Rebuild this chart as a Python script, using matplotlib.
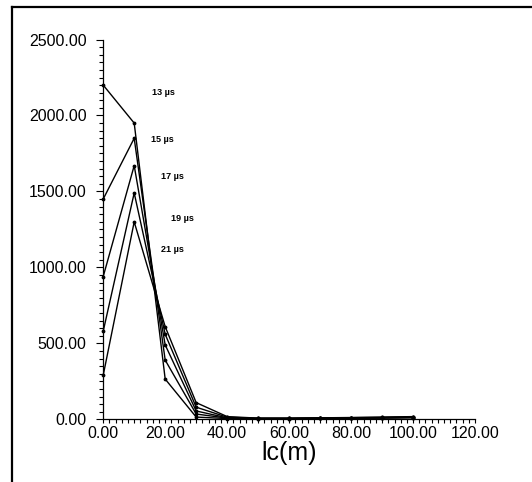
import matplotlib
matplotlib.use("Agg")
import matplotlib.pyplot as plt
from matplotlib.lines import Line2D
from matplotlib.ticker import MultipleLocator, FormatStrFormatter

plt.rcParams['font.family'] = ['Liberation Sans', 'DejaVu Sans']

lc = [0, 10, 20, 30, 40, 50, 60, 70, 80, 90, 100]
s13 = [2200, 1950, 265, 15, 5, 4, 4, 6, 7, 8, 10]
s15 = [1450, 1850, 390, 35, 8, 5, 5, 7, 8, 9, 12]
s17 = [940, 1670, 490, 55, 10, 6, 6, 8, 9, 11, 14]
s19 = [580, 1490, 560, 80, 14, 7, 7, 9, 11, 13, 16]
s21 = [290, 1300, 610, 110, 18, 8, 8, 10, 12, 15, 18]
series = [s13, s15, s17, s19, s21]
labels = ["13 µs", "15 µs", "17 µs", "19 µs", "21 µs"]
label_pos = [(19.3, 2150), (19.0, 1845), (22.2, 1600), (25.7, 1320), (22.2, 1120)]
x_ticks = [0, 20, 40, 60, 80, 100, 120]
y_ticks = [0, 500, 1000, 1500, 2000, 2500]

fig = plt.figure(figsize=(5.32, 4.82), dpi=100)
ax = fig.add_axes([0.194, 0.130, 0.699, 0.788])

for s in series:
    ax.plot(lc, s, color='black', lw=1.0, marker='.', ms=3.5, clip_on=False)

for lab, (x, y) in zip(labels, label_pos):
    ax.text(x, y, lab, fontsize=6.5, fontweight='bold', ha='center', va='center')

ax.set_xlim(0, 120)
ax.set_ylim(0, 2500)
ax.set_xticks(x_ticks)
ax.set_yticks(y_ticks)
ax.xaxis.set_major_formatter(FormatStrFormatter('%.2f'))
ax.yaxis.set_major_formatter(FormatStrFormatter('%.2f'))
ax.xaxis.set_minor_locator(MultipleLocator(2))
ax.yaxis.set_minor_locator(MultipleLocator(50))
ax.tick_params(axis='y', which='major', length=5, width=0.8, pad=7, labelsize=11.5)
ax.tick_params(axis='y', which='minor', length=3, width=0.8)
ax.tick_params(axis='x', which='major', length=3, width=0.8, pad=2, labelsize=11.5)
ax.tick_params(axis='x', which='minor', length=3, width=0.8)
for side in ['top', 'right']:
    ax.spines[side].set_visible(False)
for side in ['left', 'bottom']:
    ax.spines[side].set_linewidth(0.9)

ax.set_xlabel("lc(m)", fontsize=18, labelpad=0)

# outer frame (left and top lines)
fig.add_artist(Line2D([0.0224, 0.0224], [0.0, 0.9855], transform=fig.transFigure, color='black', lw=1.6))
fig.add_artist(Line2D([0.0224, 1.0], [0.9855, 0.9855], transform=fig.transFigure, color='black', lw=1.6))

fig.savefig("out.png", dpi=100, facecolor='white')
